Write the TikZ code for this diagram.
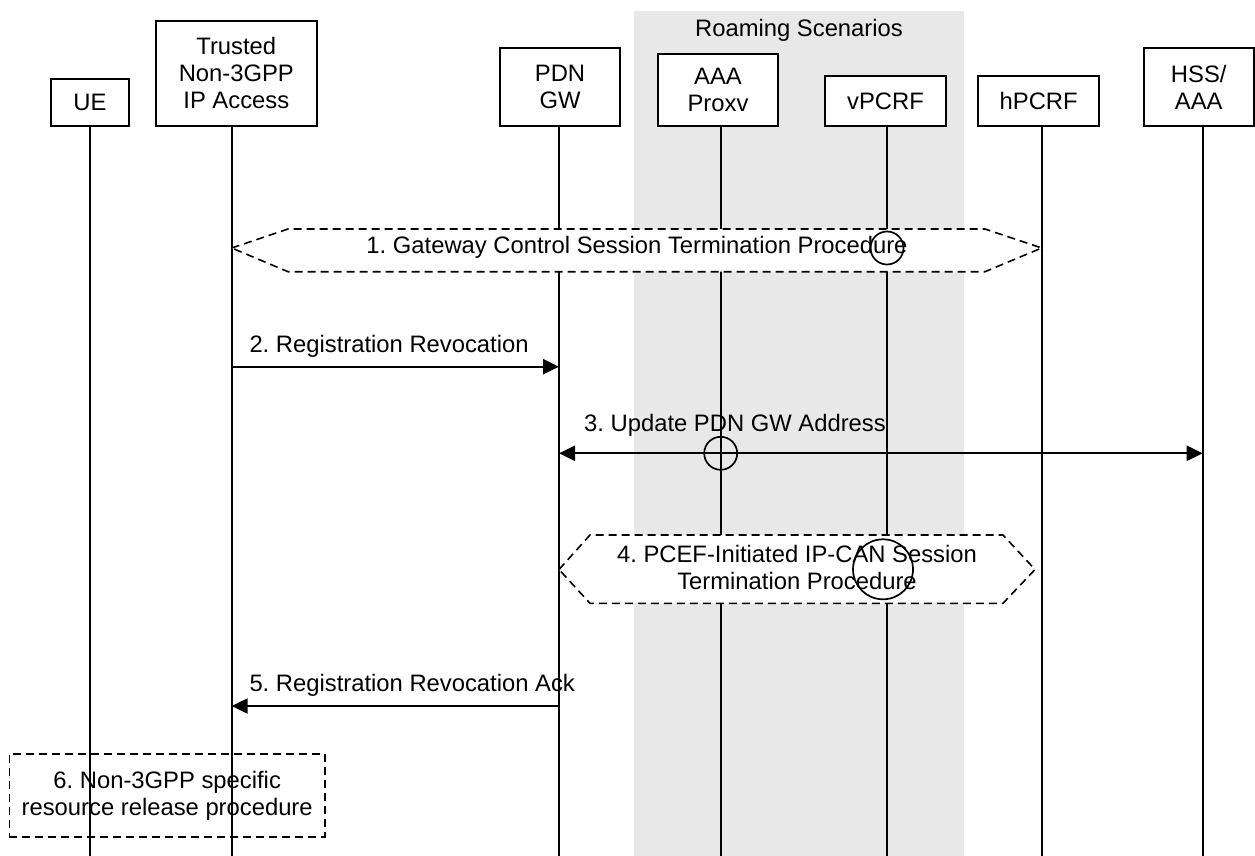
\documentclass[tikz,border=0pt]{standalone}
\usepackage{fontspec}
\setmainfont{Liberation Sans}
\usetikzlibrary{arrows.meta,positioning}
\definecolor{roamgray}{RGB}{232,232,232}
\frenchspacing

\begin{document}
\begin{tikzpicture}[x=1pt,y=-1pt,
    font=\fontsize{23.8}{27}\selectfont,
    entity/.style={draw, line width=1.8pt, fill=white, align=center, inner sep=0pt, anchor=south},
    lifeline/.style={line width=1.8pt},
    msg/.style={line width=2.3pt, -{Triangle[length=16pt,width=15pt]}},
    bimsg/.style={line width=2.3pt, {Triangle[length=16pt,width=15pt]}-{Triangle[length=16pt,width=15pt]}},
    proc/.style={draw, line width=1.6pt, dash pattern=on 8pt off 5pt, fill=white},
    ring/.style={draw, line width=1.7pt}]
    \useasboundingbox (0,0) rectangle (1255,856);
    % Roaming area behind the lifelines
    \fill[roamgray] (634,11) rectangle (964,856);
    \node (roam) at (799,30) {Roaming Scenarios};
    % Entities
    \node[entity, minimum width=77.6pt, minimum height=46.7pt] (ue) at (90,126.7) {UE};
    \node[entity, minimum width=160.7pt, minimum height=105pt] (tna) at (236.3,126.7) {Trusted\\Non-3GPP\\IP Access};
    \node[entity, minimum width=120pt, minimum height=77.4pt] (pgw) at (560,126.7) {PDN\\GW};
    \node[entity, minimum width=119.4pt, minimum height=71.7pt] (aaa) at (718,126.7) {AAA\\Proxv};
    \node[entity, minimum width=121pt, minimum height=49.4pt] (vpcrf) at (885.5,126.7) {vPCRF};
    \node[entity, minimum width=120.7pt, minimum height=49.4pt] (hpcrf) at (1038.7,126.7) {hPCRF};
    \node[entity, minimum width=110pt, minimum height=77.4pt] (hss) at (1198.7,126.7) {HSS/\\AAA};
    % Lifelines
    \foreach \n/\dx in {ue/0, tna/-4.6, pgw/-1, aaa/2.7, vpcrf/1.5, hpcrf/3, hss/4} {
        \coordinate (\n-top) at ([xshift=\dx pt]\n.south);
        \coordinate (\n-bot) at (\n-top |- 0,856);
        \draw[lifeline] (\n-top) -- (\n-bot);
    }
    % 1. Gateway control session termination
    \draw[proc] (tna-top |- 0,248) -- (288,229) -- (985,229) -- (hpcrf-top |- 0,248)
        -- (985,271.7) -- (288,271.7) -- cycle;
    \node (p1) at (637,247) {1. Gateway Control Session Termination Procedure};
    \draw[ring] (vpcrf-top |- 0,248) circle (16.5pt);
    % 2. Registration revocation
    \draw[msg] (tna-top |- 0,366.7) -- (pgw-top |- 0,366.7);
    \node[anchor=base west, inner sep=0pt] (m2) at (249.3,352.3) {2. Registration Revocation};
    % 3. Update PDN GW address
    \draw[bimsg] (pgw-top |- 0,453.3) -- (hss-top |- 0,453.3);
    \node[anchor=base west, inner sep=0pt] (m3) at (584,431.7) {3. Update PDN GW Address};
    \draw[ring] (aaa-top |- 0,453.3) circle (16.5pt);
    % 4. PCEF-initiated IP-CAN session termination
    \coordinate (p4tip) at (1035,569.5);
    \draw[proc] (pgw-top |- 0,569.5) -- (590,535) -- (1003,535) -- (p4tip)
        -- (1003,603.3) -- (590,603.3) -- cycle;
    \node[align=center] (p4) at (797,567) {4. PCEF-Initiated IP-CAN Session\\Termination Procedure};
    \draw[ring] (883,569.3) circle (30pt);
    % 5. Registration revocation ack
    \draw[msg] (pgw-top |- 0,706) -- (tna-top |- 0,706);
    \node[anchor=base west, inner sep=0pt] (m5) at (249.3,691.5) {5. Registration Revocation Ack};
    % 6. Non-3GPP specific release
    \node[draw, line width=1.6pt, dash pattern=on 8pt off 5pt, minimum width=315.7pt,
        minimum height=82.7pt, align=center] (p6) at (167.2,795.4) {6. Non-3GPP specific\\resource release procedure};
\end{tikzpicture}
\end{document}
